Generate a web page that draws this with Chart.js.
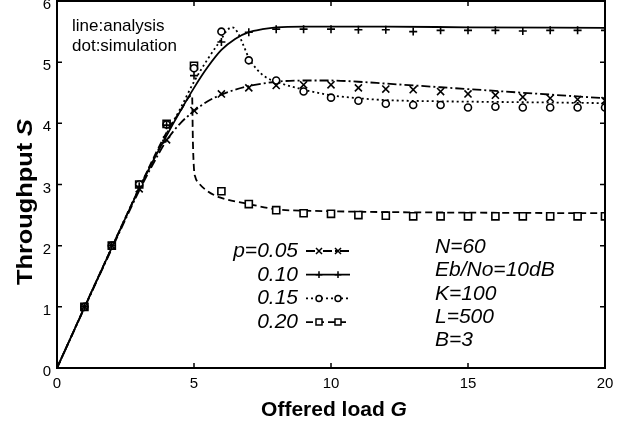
<!DOCTYPE html>
<html>
<head>
<meta charset="utf-8">
<script src="https://cdn.jsdelivr.net/npm/chart.js@4/dist/chart.umd.min.js"></script>
<style>
html,body{margin:0;padding:0;background:#fff;}
#wrap{width:638px;height:426px;position:relative;}
</style>
</head>
<body>
<div id="wrap"><canvas id="c" width="638" height="426"></canvas></div>
<script>
// ---- data ----
const loadG = [1,2,3,4,5,6,7,8,9,10,11,12,13,14,15,16,17,18,19,20];
const simP05 = [1.0,2.0,2.93,3.73,4.21,4.48,4.58,4.62,4.63,4.63,4.58,4.56,4.55,4.52,4.48,4.46,4.43,4.41,4.39,4.37];
const simP10 = [1.0,2.0,2.97,3.97,4.78,5.33,5.49,5.54,5.54,5.54,5.53,5.53,5.50,5.52,5.52,5.52,5.51,5.52,5.52,5.52];
const simP15 = [1.0,2.0,3.0,3.98,4.90,5.50,5.03,4.70,4.52,4.42,4.37,4.32,4.30,4.30,4.26,4.27,4.26,4.26,4.26,4.26];
const simP20 = [1.0,2.0,3.0,3.99,4.94,2.89,2.68,2.58,2.53,2.52,2.50,2.49,2.48,2.48,2.48,2.48,2.48,2.48,2.48,2.48];

const anaG05 = [0,1,2,3,3.5,4,4.5,5,5.5,6,6.5,7,8,9,10,11,12,13,14,15,16,17,18,19,20];
const anaS05 = [0,0.98,1.95,2.9,3.33,3.72,4.0,4.2,4.36,4.47,4.55,4.61,4.68,4.70,4.70,4.68,4.65,4.62,4.59,4.56,4.53,4.50,4.47,4.44,4.41];
const anaG10 = [0,1,2,3,3.5,4,4.5,5,5.5,6,6.5,7,7.5,8,9,10,12,15,20];
const anaS10 = [0,0.99,1.97,2.93,3.38,3.80,4.20,4.58,4.92,5.20,5.38,5.49,5.54,5.57,5.58,5.58,5.58,5.57,5.56];
const anaG15 = [0,1,2,3,4,4.5,5,5.5,6,6.2,6.4,6.6,6.8,7,7.3,7.6,8,9,10,11,12,14,16,18,20];
const anaS15 = [0,0.99,1.97,2.94,3.83,4.24,4.68,5.05,5.38,5.52,5.57,5.48,5.28,5.07,4.88,4.76,4.68,4.55,4.46,4.41,4.38,4.36,4.35,4.34,4.33];
const anaG20 = [0,1,2,3,4,4.5,4.93,4.96,5.0,5.05,5.2,5.5,5.94,6.9,8.1,9.3,11.8,15,20];
const anaS20 = [0,0.99,1.97,2.94,3.85,4.20,4.46,3.70,3.25,3.12,3.01,2.89,2.79,2.69,2.59,2.57,2.55,2.54,2.53];

const tickX = [0,5,10,15,20];
const tickY = [0,1,2,3,4,5,6];
const legendLabels = ['p=0.05','0.10','0.15','0.20'];
const paramLines = ['N=60','Eb/No=10dB','K=100','L=500','B=3'];
const noteLines = ['line:analysis','dot:simulation'];
const xTitle = ['Offered load ', 'G'];
const yTitle = ['Throughput ', 'S'];

// ---- styles ----
const styles = [
  {dash:[9,3,2,3], point:'crossRot', r:5},
  {dash:[], point:'cross', r:4},
  {dash:[2,3], point:'circle', r:3.5},
  {dash:[7,4], point:'rect', r:5}
];
const simSets = [simP05, simP10, simP15, simP20];
const anaSets = [[anaG05,anaS05],[anaG10,anaS10],[anaG15,anaS15],[anaG20,anaS20]];

const datasets = [];
simSets.forEach((vals,i)=>{
  datasets.push({
    data: loadG.map((g,k)=>({x:g,y:vals[k]})),
    showLine:false,
    pointStyle: styles[i].point,
    pointRadius: styles[i].r,
    pointHoverRadius: styles[i].r,
    pointBorderColor:'#000',
    pointBackgroundColor:'#fff',
    pointBorderWidth:1.6,
    order: i+1
  });
});
anaSets.forEach((a,i)=>{
  datasets.push({
    data: a[0].map((g,k)=>({x:g,y:a[1][k]})),
    showLine:true,
    borderColor:'#000',
    borderWidth:1.8,
    borderDash: styles[i].dash,
    pointRadius:0,
    pointHoverRadius:0,
    cubicInterpolationMode:'monotone',
    fill:false,
    order: 10+i
  });
});

function drawMarker(ctx, style, r, x, y){
  ctx.save();
  ctx.setLineDash([]);
  ctx.lineWidth = 1.5;
  ctx.strokeStyle = '#000';
  ctx.fillStyle = '#fff';
  ctx.beginPath();
  if(style==='circle'){ ctx.arc(x,y,r,0,Math.PI*2); ctx.fill(); ctx.stroke(); }
  else if(style==='rect'){ const s=r*Math.SQRT1_2; ctx.rect(x-s,y-s,2*s,2*s); ctx.fill(); ctx.stroke(); }
  else if(style==='cross'){ ctx.moveTo(x-r,y); ctx.lineTo(x+r,y); ctx.moveTo(x,y-r); ctx.lineTo(x,y+r); ctx.stroke(); }
  else { const s=r*Math.SQRT1_2; ctx.moveTo(x-s,y-s); ctx.lineTo(x+s,y+s); ctx.moveTo(x+s,y-s); ctx.lineTo(x-s,y+s); ctx.stroke(); }
  ctx.restore();
}

const deco = {
  id:'deco',
  afterDatasetsDraw(chart){
    const {ctx, chartArea:{left,right,top,bottom}, scales:{x,y}} = chart;
    ctx.save();
    ctx.strokeStyle='#000';
    ctx.lineWidth=2;
    ctx.setLineDash([]);
    ctx.strokeRect(left,top,right-left,bottom-top);
    ctx.lineWidth=1.5;
    ctx.beginPath();
    tickX.forEach(v=>{const px=x.getPixelForValue(v); ctx.moveTo(px,bottom); ctx.lineTo(px,bottom-5); ctx.moveTo(px,top); ctx.lineTo(px,top+5);});
    tickY.forEach(v=>{const py=y.getPixelForValue(v); ctx.moveTo(left,py); ctx.lineTo(left+5,py); ctx.moveTo(right,py); ctx.lineTo(right-5,py);});
    ctx.stroke();

    ctx.fillStyle='#000';
    // notes
    ctx.font='17px "Liberation Sans", Arial, sans-serif';
    ctx.textAlign='left'; ctx.textBaseline='alphabetic';
    noteLines.forEach((t,i)=>ctx.fillText(t, 72, 31+20*i));

    // legend
    ctx.font='italic 21px "Liberation Sans", Arial, sans-serif';
    legendLabels.forEach((t,i)=>{
      const base = 257+23.7*i;
      ctx.textAlign='right';
      ctx.fillText(t, 298, base);
      const ly = base-6;
      ctx.save();
      ctx.lineWidth=1.8; ctx.setLineDash(styles[i].dash);
      ctx.beginPath(); ctx.moveTo(306,ly); ctx.lineTo(350,ly); ctx.stroke();
      ctx.restore();
      drawMarker(ctx, styles[i].point, styles[i].r*0.85, 319, ly);
      drawMarker(ctx, styles[i].point, styles[i].r*0.85, 338, ly);
    });

    // parameters
    ctx.textAlign='left';
    paramLines.forEach((t,i)=>ctx.fillText(t, 435, 253+23.3*i));

    // x title
    ctx.font='bold 21px "Liberation Sans", Arial, sans-serif';
    const w1 = ctx.measureText(xTitle[0]).width;
    ctx.font='bold italic 21px "Liberation Sans", Arial, sans-serif';
    const w2 = ctx.measureText(xTitle[1]).width;
    let sx = 334-(w1+w2)/2;
    ctx.font='bold 21px "Liberation Sans", Arial, sans-serif';
    ctx.fillText(xTitle[0], sx, 416);
    ctx.font='bold italic 21px "Liberation Sans", Arial, sans-serif';
    ctx.fillText(xTitle[1], sx+w1, 416);

    // y title
    ctx.save();
    ctx.translate(32, 202);
    ctx.rotate(-Math.PI/2);
    ctx.font='bold 22px "Liberation Sans", Arial, sans-serif';
    const v1 = ctx.measureText(yTitle[0]).width;
    ctx.font='bold italic 22px "Liberation Sans", Arial, sans-serif';
    const v2 = ctx.measureText(yTitle[1]).width;
    const k = 166/(v1+v2);
    ctx.scale(k,1);
    const sy = -(v1+v2)/2;
    ctx.font='bold 22px "Liberation Sans", Arial, sans-serif';
    ctx.fillText(yTitle[0], sy, 0);
    ctx.font='bold italic 22px "Liberation Sans", Arial, sans-serif';
    ctx.fillText(yTitle[1], sy+v1, 0);
    ctx.restore();

    ctx.restore();
  }
};

new Chart(document.getElementById('c'), {
  type:'scatter',
  data:{datasets},
  options:{
    responsive:false,
    animation:false,
    layout:{autoPadding:false, padding:{left:0,right:33,top:1,bottom:0}},
    plugins:{legend:{display:false}, tooltip:{enabled:false}},
    scales:{
      x:{
        type:'linear', min:0, max:20,
        afterFit(s){ s.height=58; s.paddingLeft=0; s.paddingRight=0; },
        afterBuildTicks(s){ s.ticks = tickX.map(v=>({value:v})); },
        grid:{display:false, drawTicks:false},
        border:{display:false},
        ticks:{color:'#000', padding:7, font:{family:'"Liberation Sans", Arial, sans-serif', size:15}, maxRotation:0}
      },
      y:{
        type:'linear', min:0, max:6,
        afterFit(s){ s.width=57; s.paddingTop=0; s.paddingBottom=0; },
        afterBuildTicks(s){ s.ticks = tickY.map(v=>({value:v})); },
        grid:{display:false, drawTicks:false},
        border:{display:false},
        ticks:{color:'#000', padding:6, labelOffset:4, font:{family:'"Liberation Sans", Arial, sans-serif', size:15}}
      }
    }
  },
  plugins:[deco]
});
</script>
</body>
</html>
